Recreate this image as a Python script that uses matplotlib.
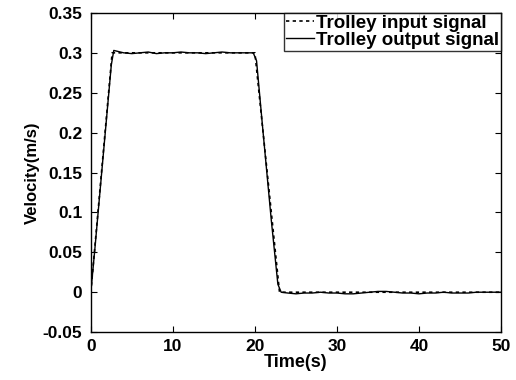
import matplotlib
matplotlib.use("Agg")
import matplotlib.pyplot as plt

plt.rcParams["font.family"] = ["Liberation Sans", "DejaVu Sans"]
plt.rcParams["font.weight"] = "bold"

# input (reference) signal: trapezoidal velocity profile
t_in = [0, 2.6, 20.0, 23.0, 50]
v_in = [0, 0.300, 0.300, 0.0, 0.0]

# measured trolley output velocity
t_out = [0, 0.5, 1.5, 2.5, 2.8, 3.2, 4, 5, 6, 7, 8, 9, 10, 11, 12, 13, 14, 15,
         16, 17, 18, 19, 19.8, 20.2, 21, 22, 22.8, 23.2, 24, 25, 26, 27, 28,
         29, 30, 31, 32, 33, 34, 35, 36, 37, 38, 39, 40, 41, 42, 43, 44, 45,
         46, 47, 48, 49, 50]
v_out = [0.0, 0.055, 0.17, 0.285, 0.303, 0.302, 0.300, 0.299, 0.300, 0.301,
         0.299, 0.300, 0.300, 0.301, 0.300, 0.300, 0.299, 0.300, 0.301, 0.300,
         0.300, 0.300, 0.300, 0.290, 0.20, 0.09, 0.010, 0.000, -0.001, -0.002,
         -0.001, -0.001, 0.0, -0.001, -0.001, -0.002, -0.002, -0.001, 0.0,
         0.001, 0.001, 0.0, -0.001, -0.001, -0.002, -0.001, -0.001, 0.0,
         -0.001, -0.001, -0.001, 0.0, 0.0, 0.0, 0.0]

fig = plt.figure(figsize=(5.16, 3.80), dpi=100)
ax = fig.add_axes([0.176, 0.126, 0.795, 0.840])

ax.plot(t_in, v_in, color="black", linestyle=(0, (2, 2)), linewidth=1.2,
        label="Trolley input signal")
ax.plot(t_out, v_out, color="black", linestyle="-", linewidth=1.0,
        label="Trolley output signal")

ax.set_xlim(0, 50)
ax.set_ylim(-0.05, 0.35)
ax.set_xticks([0, 10, 20, 30, 40, 50])
ax.set_yticks([-0.05, 0, 0.05, 0.1, 0.15, 0.2, 0.25, 0.3, 0.35])
ax.set_yticklabels(["-0.05", "0", "0.05", "0.1", "0.15", "0.2", "0.25",
                    "0.3", "0.35"])
ax.tick_params(direction="in", top=True, right=True, length=4,
               labelsize=12.5)
ax.tick_params(axis="x", pad=5)
ax.tick_params(axis="y", pad=6)
for lab in ax.get_xticklabels() + ax.get_yticklabels():
    lab.set_fontweight("bold")
for s in ax.spines.values():
    s.set_linewidth(1.0)

ax.set_xlabel("Time(s)", fontsize=13, fontweight="bold", labelpad=0)
ax.set_ylabel("Velocity(m/s)", fontsize=12, fontweight="bold", labelpad=2)

leg = ax.legend(loc="upper right", fontsize=13.5, frameon=True, fancybox=False,
                edgecolor="black", borderpad=0.1, labelspacing=0.0,
                handlelength=1.5, handletextpad=0.1, borderaxespad=0.0)
leg.get_frame().set_linewidth(1.0)
for txt in leg.get_texts():
    txt.set_fontweight("bold")

fig.savefig("out.png", dpi=100)
